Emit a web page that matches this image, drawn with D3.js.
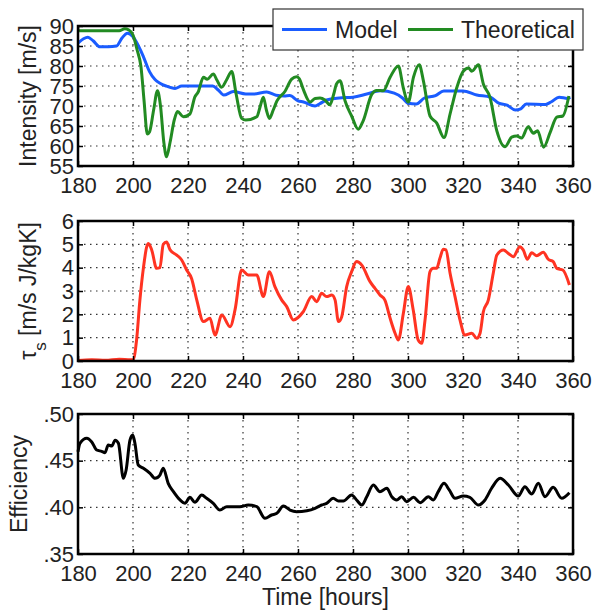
<!DOCTYPE html>
<html>
<head>
<meta charset="utf-8">
<script src="https://cdn.jsdelivr.net/npm/d3@7"></script>
<style>
  body { margin: 0; background: #fff; }
  svg text { font-family: "Liberation Sans", Arial, sans-serif; fill: #222; }
</style>
</head>
<body>
<svg id="chart" width="593" height="612"></svg>
<script>
// hours on every panel
const xTicks = [180, 200, 220, 240, 260, 280, 300, 320, 340, 360];

// top panel: intensity [m/s]
const intensityTicks = [55, 60, 65, 70, 75, 80, 85, 90];
const modelSeries = [
    [180, 85.7], [182, 86.8], [183.6, 87.2], [185.5, 86.3], [188, 84.8], [191, 84.8], [194, 85],
    [196, 87], [198, 88.2], [200, 87.3], [202, 85], [203.8, 82.3], [206, 78.6], [208, 76.6],
    [209.8, 75.7], [212, 75], [215.3, 74.4], [217.7, 75], [222, 75], [229, 75], [231, 74],
    [233, 72.75], [236.5, 73.6], [241, 73], [243.8, 73], [248.6, 73.5], [252, 72.7], [255, 72.5],
    [257, 72.6], [260, 71.3], [262, 71], [266.2, 70], [268, 70.6], [270.4, 71.5], [275, 72],
    [280, 72.2], [285, 73], [290, 73.8], [295, 73.2], [298, 72], [300, 70.7], [303, 70.5],
    [306, 72], [310, 72.6], [313, 73.75], [320, 73.75], [325, 72.75], [330, 72.2], [333, 70.7],
    [336, 70.2], [339, 69], [341, 69.3], [343, 70.5], [350, 70.4], [352, 71], [355, 72.2],
    [358, 71.9], [359, 72.2]
];
const theoreticalSeries = [
    [180, 88.8], [190, 88.8], [195, 88.8], [197, 89.3], [198.5, 89], [200, 87.75], [201.5, 84],
    [202.9, 79.8], [204, 71.5], [205.2, 63], [206, 63.5], [207.5, 69], [208.9, 73.8], [210, 70],
    [211.2, 61], [212.2, 57.3], [213.5, 61], [215, 66.5], [216.2, 68.6], [218.3, 67.3],
    [220.7, 68], [222.5, 72.3], [223.7, 73.5], [225.6, 77.2], [227, 76.7], [229.2, 78],
    [230.5, 76.5], [232.2, 74.7], [234, 76.5], [235.9, 78.6], [237.5, 73], [239.5, 66.9],
    [241, 66.5], [245, 67.3], [246.3, 70], [247.4, 72.2], [248.5, 69], [249.6, 66.9], [251, 69],
    [252.3, 71.2], [255.3, 73.7], [257.7, 76.7], [259.5, 77.3], [260.5, 76.8], [261.9, 74.2],
    [264.4, 71], [266.2, 71.9], [268, 72], [269.8, 71.5], [271.6, 70.3], [273, 73], [274, 75.5],
    [275.3, 76.3], [277.1, 71.3], [279.5, 67.5], [281.9, 64.2], [283.7, 66.3], [286.8, 72.9],
    [288.6, 73.9], [291, 73.8], [293.5, 77.2], [296.5, 80], [298.3, 74.5], [300.1, 71],
    [302, 77.2], [304.1, 80.3], [305.6, 76.3], [308, 67.5], [310.4, 65.8], [313.1, 62.1],
    [315.3, 68], [317.7, 74.5], [320.1, 78.7], [322, 79.5], [323.2, 78.7], [325.6, 80.3],
    [327.4, 75.5], [329.8, 72.2], [332.3, 63.8], [335.3, 59.8], [337.7, 62.2], [339.5, 62.5],
    [341.3, 62], [343.7, 64.8], [345.6, 63.2], [347.1, 63.8], [349.3, 59.7], [351.7, 63.4],
    [354.1, 67.2], [356.3, 67.5], [358.5, 72.5]
];

// middle panel: tau_s
const tauTicks = [0, 1, 2, 3, 4, 5, 6];
const tauSeries = [
    [180, 0.02], [185, 0.05], [190, 0.03], [195, 0.08], [199, 0.05], [200, 0.05], [201.3, 0.9],
    [202.5, 2.6], [203.8, 4.0], [205, 4.9], [205.6, 5.04], [206.8, 4.76], [208.6, 3.97],
    [209.8, 4.0], [211, 5.0], [212.2, 5.1], [213.5, 4.76], [215.9, 4.54], [217.7, 4.33],
    [219.5, 3.9], [221.3, 3.54], [223.2, 2.61], [225.6, 1.69], [228, 1.83], [229.8, 1.11],
    [232.3, 1.97], [235.3, 1.47], [237.1, 2.19], [239.5, 3.9], [241.9, 3.69], [245, 3.69],
    [247.4, 2.76], [249.6, 3.83], [251.6, 3.19], [254.1, 2.61], [255.9, 2.33], [258.3, 1.76],
    [261.9, 2.11], [265, 2.76], [266.8, 2.54], [268.6, 2.9], [270.4, 2.76], [272.3, 2.83],
    [273.5, 2.61], [274.7, 1.69], [275.9, 1.9], [277.7, 3.19], [279.5, 3.83], [281.3, 4.26],
    [283.2, 4.11], [286.2, 3.4], [288, 3.11], [289.8, 2.83], [291.6, 2.61], [293.5, 1.83],
    [295.3, 1.19], [296.5, 0.9], [298.3, 2.04], [300.1, 3.19], [301.9, 2.19], [303.7, 0.9],
    [305, 0.76], [306.2, 1.76], [308, 3.83], [309.2, 3.97], [310.4, 3.97], [311.6, 4.4],
    [312.8, 4.79], [313.8, 4.76], [315.3, 3.76], [317.1, 2.76], [318.9, 1.76], [320.7, 1.11],
    [323.2, 1.19], [325, 0.97], [326.2, 1.19], [327.4, 2.11], [329.2, 2.61], [331, 3.76],
    [332.3, 4.54], [334.7, 4.76], [336.5, 4.61], [338.3, 4.47], [340.7, 4.9], [341.9, 4.76],
    [343.4, 4.36], [345, 4.64], [346.8, 4.51], [349.2, 4.66], [351, 4.36], [352.8, 4.26],
    [354.1, 3.97], [356.3, 3.9], [358.7, 3.26]
];

// bottom panel: efficiency
const effTicks = [0.35, 0.40, 0.45, 0.50];
const effSeries = [
    [180, 0.4596], [180.7, 0.4686], [183.2, 0.474], [185, 0.470], [186.8, 0.4614], [188.6, 0.460],
    [189.8, 0.4586], [191, 0.4668], [192.3, 0.4657], [193.5, 0.472], [194.7, 0.4686],
    [196.5, 0.4311], [197.5, 0.44], [198.9, 0.472], [199.9, 0.4775], [200.7, 0.4686],
    [201.9, 0.4454], [203.8, 0.4418], [206.2, 0.4364], [208, 0.4311], [209.8, 0.4346],
    [211, 0.4418], [212.8, 0.4257], [214.7, 0.4168], [217.1, 0.4079], [218.9, 0.4043],
    [220.7, 0.4107], [222.5, 0.4054], [225, 0.4132], [226.8, 0.4097], [229.2, 0.4043],
    [231.6, 0.3971], [234.1, 0.4007], [238.9, 0.4007], [241.9, 0.4025], [245, 0.4007],
    [248, 0.3882], [250.4, 0.3918], [252.3, 0.3936], [254.7, 0.4014], [257.1, 0.3971],
    [259.5, 0.3954], [263.2, 0.3964], [266.2, 0.399], [268.6, 0.4025], [270.4, 0.4043],
    [272.8, 0.4097], [274.7, 0.4068], [276.5, 0.4068], [279.5, 0.4132], [281.3, 0.4079],
    [283.2, 0.4025], [285, 0.4114], [287.4, 0.4239], [289.8, 0.4168], [292.3, 0.4204],
    [294.1, 0.4114], [295.9, 0.4079], [297.7, 0.4114], [299.5, 0.4061], [302, 0.4107],
    [304.4, 0.405], [307.4, 0.4114], [309.2, 0.4079], [311, 0.4168], [313.1, 0.4257],
    [315, 0.4186], [317.1, 0.4097], [320.1, 0.4121], [322.5, 0.4107], [325.6, 0.4025],
    [328, 0.4079], [330.4, 0.4204], [333.5, 0.4311], [336.5, 0.4239], [340.1, 0.4121],
    [342.5, 0.4221], [345, 0.4143], [347.4, 0.4257], [349.8, 0.4114], [352.8, 0.4214],
    [355.9, 0.4097], [358.7, 0.4157]
];

const svg = d3.select("#chart");
const left = 78, right = 573;

const x = d3.scaleLinear().domain([180, 360]).range([left, right]);

const drawPanel = (cfg) => {
    const y = d3.scaleLinear().domain(cfg.domain).range([cfg.bottom, cfg.top]);
    const g = svg.append("g");

    // dotted grid
    g.selectAll(".vgrid")
        .data(xTicks.slice(1, -1))
        .join("line")
        .attr("x1", d => x(d)).attr("x2", d => x(d))
        .attr("y1", cfg.top).attr("y2", cfg.bottom)
        .attr("stroke", "#333").attr("stroke-width", 1.2)
        .attr("stroke-dasharray", "1.5,4.5");
    g.selectAll(".hgrid")
        .data(cfg.ticks.slice(1, -1))
        .join("line")
        .attr("x1", left).attr("x2", right)
        .attr("y1", d => y(d)).attr("y2", d => y(d))
        .attr("stroke", "#333").attr("stroke-width", 1.2)
        .attr("stroke-dasharray", "1.5,4.5");

    // data lines
    const line = d3.line()
        .x(d => x(d[0]))
        .y(d => y(d[1]))
        .curve(d3.curveMonotoneX);
    cfg.series.forEach(s => {
        g.append("path")
            .datum(s.data)
            .attr("fill", "none")
            .attr("stroke", s.color)
            .attr("stroke-width", 3)
            .attr("stroke-linejoin", "round")
            .attr("d", line);
    });

    // axes with inward ticks
    const styleAxis = (sel) => {
        sel.select(".domain").remove();
        sel.selectAll(".tick line").attr("stroke", "#000").attr("stroke-width", 1.5);
        sel.selectAll(".tick text").style("font-size", "22px").attr("fill", "#222");
    };
    g.append("g")
        .attr("transform", `translate(0,${cfg.bottom})`)
        .call(d3.axisBottom(x).tickValues(xTicks).tickSize(-5).tickPadding(11).tickFormat(d3.format("d")))
        .call(styleAxis);
    g.append("g")
        .attr("transform", `translate(0,${cfg.top})`)
        .call(d3.axisTop(x).tickValues(xTicks).tickSize(-5).tickFormat(""))
        .call(styleAxis);
    g.append("g")
        .attr("transform", `translate(${left},0)`)
        .call(d3.axisLeft(y).tickValues(cfg.ticks).tickSize(-5).tickPadding(4).tickFormat(cfg.format))
        .call(styleAxis);
    g.append("g")
        .attr("transform", `translate(${right},0)`)
        .call(d3.axisRight(y).tickValues(cfg.ticks).tickSize(-5).tickFormat(""))
        .call(styleAxis);

    g.append("rect")
        .attr("x", left).attr("y", cfg.top)
        .attr("width", right - left).attr("height", cfg.bottom - cfg.top)
        .attr("fill", "none").attr("stroke", "#000").attr("stroke-width", 2.5);

    // y label
    const label = g.append("text")
        .attr("transform", `translate(${cfg.labelX},${(cfg.top + cfg.bottom) / 2}) rotate(-90)`)
        .attr("text-anchor", "middle")
        .style("font-size", "23px");
    cfg.label(label);
    return g;
};

drawPanel({
    top: 26, bottom: 166, domain: [55, 90], ticks: intensityTicks,
    format: d3.format("d"), labelX: 36,
    series: [
        { data: modelSeries, color: "#1a5cff" },
        { data: theoreticalSeries, color: "#228b22" }
    ],
    label: t => t.text("Intensity [m/s]")
});

drawPanel({
    top: 221, bottom: 361, domain: [0, 6], ticks: tauTicks,
    format: d3.format("d"), labelX: 36,
    series: [{ data: tauSeries, color: "#ff3322" }],
    label: t => {
        t.append("tspan").text("τ");
        t.append("tspan").attr("baseline-shift", "sub").style("font-size", "17px").text("s");
        t.append("tspan").text(" [m/s J/kgK]");
    }
});

drawPanel({
    top: 414, bottom: 554, domain: [0.35, 0.50], ticks: effTicks,
    format: d => d3.format(".2f")(d).replace(/^0/, ""), labelX: 27,
    series: [{ data: effSeries, color: "#000" }],
    label: t => t.text("Efficiency")
});

// x label
svg.append("text")
    .attr("x", (left + right) / 2)
    .attr("y", 605)
    .attr("text-anchor", "middle")
    .style("font-size", "23px")
    .text("Time [hours]");

// legend
const legend = svg.append("g");
legend.append("rect")
    .attr("x", 273).attr("y", 9).attr("width", 310).attr("height", 41)
    .attr("fill", "#fff").attr("stroke", "#333").attr("stroke-width", 1.2);
const legendItems = [
    { name: "Model", color: "#1a5cff", x: 282 },
    { name: "Theoretical", color: "#228b22", x: 408 }
];
legend.selectAll(".item")
    .data(legendItems)
    .join("g")
    .each(function (d) {
        const item = d3.select(this);
        item.append("line")
            .attr("x1", d.x).attr("x2", d.x + 45)
            .attr("y1", 29.5).attr("y2", 29.5)
            .attr("stroke", d.color).attr("stroke-width", 3);
        item.append("text")
            .attr("x", d.x + 53).attr("y", 38)
            .style("font-size", "23px")
            .text(d.name);
    });
</script>
</body>
</html>
